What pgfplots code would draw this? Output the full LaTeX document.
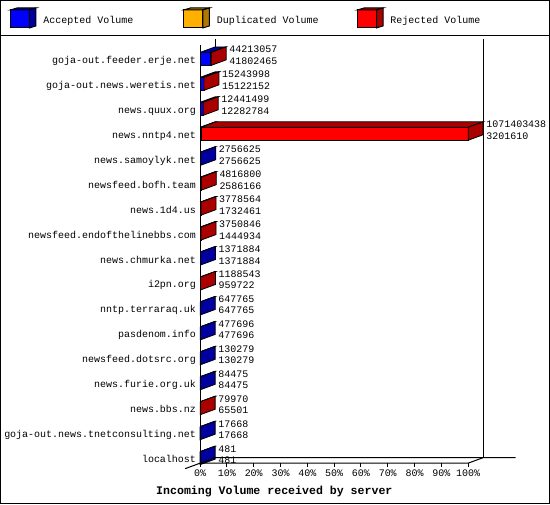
\documentclass[border=0pt]{standalone}
\usepackage{fontspec}
\setmainfont{Liberation Mono}
\usepackage{pgfplots}
\usepackage{pgfplotstable}
\pgfplotsset{compat=1.18}

\definecolor{accA}{RGB}{0,0,255}
\definecolor{accD}{RGB}{0,0,160}
\definecolor{dupA}{RGB}{255,176,0}
\definecolor{dupD}{RGB}{176,120,0}
\definecolor{rejA}{RGB}{255,0,0}
\definecolor{rejD}{RGB}{170,0,0}

% incoming volume per server: total and accepted (rejected = total - accepted)
\pgfplotstableread{
idx name total acc
0 goja-out.feeder.erje.net 44213057 41802465
1 goja-out.news.weretis.net 15243998 15122152
2 news.quux.org 12441499 12282784
3 news.nntp4.net 1071403438 3201610
4 news.samoylyk.net 2756625 2756625
5 newsfeed.bofh.team 4816800 2586166
6 news.1d4.us 3778564 1732461
7 newsfeed.endofthelinebbs.com 3750846 1444934
8 news.chmurka.net 1371884 1371884
9 i2pn.org 1188543 959722
10 nntp.terraraq.uk 647765 647765
11 pasdenom.info 477696 477696
12 newsfeed.dotsrc.org 130279 130279
13 news.furie.org.uk 84475 84475
14 news.bbs.nz 79970 65501
15 goja-out.news.tnetconsulting.net 17668 17668
16 localhost 481 481
}\hosts

\def\vmax{1071403438}
\pgfplotsset{
  vol/.style={x filter/.expression={x/\vmax*100}},
  face/.style={vol, draw=black, line width=0.8pt},
  lbl/.style={draw=none, mark=none, nodes near coords, point meta=explicit symbolic},
}

\begin{document}
\fontsize{10}{12}\selectfont
\begin{tikzpicture}
\begin{axis}[
    hide axis, clip=false,
    x={(2.685pt,0pt)}, y={(0pt,-25pt)}, z={(15pt,5.5pt)},
    xmin=0, xmax=100, ymin=-0.56, ymax=16.2, zmin=0, zmax=1,
]
\coordinate (O) at (axis cs:0,0,0);

\pgfplotsinvokeforeach{0,...,16}{
  \pgfplotstablegetelem{#1}{total}\of\hosts \let\tot\pgfplotsretval
  \pgfplotstablegetelem{#1}{acc}\of\hosts \let\acc\pgfplotsretval
  \pgfmathsetmacro\yt{#1-0.26}
  \pgfmathsetmacro\yb{#1+0.26}
  \ifx\tot\acc \def\sidecol{accD}\else\def\sidecol{rejD}\fi
  \edef\faces{%
    \noexpand\addplot3[face, fill=accA] coordinates {(0,\yt,0) (\acc,\yt,0) (\acc,\yb,0) (0,\yb,0) (0,\yt,0)};
    \noexpand\addplot3[face, fill=accD] coordinates {(0,\yt,0) (\acc,\yt,0) (\acc,\yt,1) (0,\yt,1) (0,\yt,0)};
    \noexpand\addplot3[face, fill=rejA] coordinates {(\acc,\yt,0) (\tot,\yt,0) (\tot,\yb,0) (\acc,\yb,0) (\acc,\yt,0)};
    \noexpand\addplot3[face, fill=rejD] coordinates {(\acc,\yt,0) (\tot,\yt,0) (\tot,\yt,1) (\acc,\yt,1) (\acc,\yt,0)};
    \noexpand\addplot3[face, fill=\sidecol] coordinates {(\tot,\yt,0) (\tot,\yt,1) (\tot,\yb,1) (\tot,\yb,0) (\tot,\yt,0)};
  }\faces
}

% value labels right of each bar
\addplot3[vol, lbl, every node near coord/.append style={anchor=base west, inner sep=0pt, xshift=3pt, yshift=0.5pt}]
  table[x=total, y=idx, z expr=1, meta=total] {\hosts};
\addplot3[vol, lbl, every node near coord/.append style={anchor=base west, inner sep=0pt, xshift=3pt, yshift=-11pt}]
  table[x=total, y=idx, z expr=1, meta=acc] {\hosts};
% server names
\addplot3[lbl, every node near coord/.append style={anchor=base east, inner sep=0pt, xshift=-4pt, yshift=-4.5pt}]
  table[x expr=0, y=idx, z expr=0, meta=name] {\hosts};
\end{axis}

% frame, legend and axis texts in pixel units of the reference
\begin{scope}[shift={(O)}, xshift=-200pt, yshift=59pt, x=1pt, y=-1pt, line width=1pt]
  \draw (0.5,0.5) rectangle (549.5,504.5);
  \draw (0,35.5) -- (550,35.5);
  \draw (200,45) -- (200,464);
  \draw (215,39.5) -- (215,47);
  \draw (483.5,39.5) -- (483.5,458.5);
  \draw (185,469.5) -- (215,458.5) -- (516,458.5);
  \draw (200,464) -- (468.5,464) -- (483.5,458.5);
  \foreach \k in {0,...,10} {
    \draw ({200+26.85*\k},464) -- ({200+26.85*\k},468);
    \pgfmathtruncatemacro\pc{10*\k}
    \node[anchor=base, inner sep=0pt] at ({200+26.85*\k},477) {\pc\%};
  }
  \node[anchor=base west, inner sep=0pt, font=\fontsize{11.6}{13}\selectfont\bfseries]
    at (155.5,495) {Incoming Volume received by server};
  % legend cubes
  \foreach \cx/\ca/\cd/\txt in {10/accA/accD/Accepted Volume, 183.7/dupA/dupD/Duplicated Volume, 357.7/rejA/rejD/Rejected Volume} {
    \draw[fill=\ca] (\cx,10) rectangle ({\cx+19},28);
    \draw[fill=\cd] (\cx,10) -- ({\cx+6.5},8) -- ({\cx+25.5},8) -- ({\cx+19},10) -- cycle;
    \draw[fill=\cd] ({\cx+19},10) -- ({\cx+25.5},8) -- ({\cx+25.5},26) -- ({\cx+19},28) -- cycle;
    \node[anchor=base west, inner sep=0pt] at ({\cx+32.5},24) {\txt};
  }
\end{scope}
\end{tikzpicture}
\end{document}
